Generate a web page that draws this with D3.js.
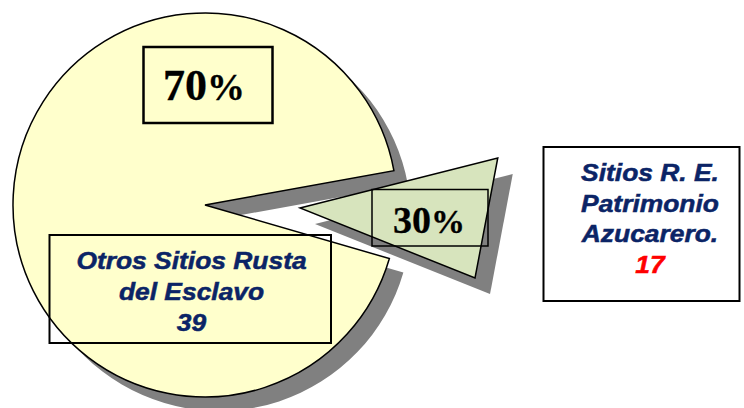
<!DOCTYPE html>
<html><head><meta charset="utf-8">
<script src="https://cdn.jsdelivr.net/npm/d3@7"></script>
<style>html,body{margin:0;padding:0;background:#fff;overflow:hidden}svg{display:block}</style>
</head><body><svg id="c" width="744" height="408"></svg>
<script>
// ---- data ----
const categories = ["Otros Sitios Rusta del Esclavo", "Sitios R. E. Patrimonio Azucarero."];
const values = [39, 17];
const nameLines = [["Otros Sitios Rusta", "del Esclavo"], ["Sitios R. E.", "Patrimonio", "Azucarero."]];
const fills = ["#FFFFCC", "#D7E4BD"];

const total = d3.sum(values);
const percents = values.map(v => Math.round(v / total * 100) + "%");

const svg = d3.select("#c");
const rad = d => d * Math.PI / 180;

// angle scales (degrees, d3 convention: 0 = 12 o'clock, clockwise) as drawn in the picture
const bigAngle = d3.scaleLinear().domain([0, values[0]]).range([106.2, 439.7]);
const smallAngle = d3.scaleLinear().domain([0, values[1]]).range([75.8, 111.8]);

const big = { cx: 205, cy: 205, r: 192 };
const small = { cx: 300, cy: 208, r0: 204, r1: 188.5 };

const bigArc = d3.arc().innerRadius(0).outerRadius(big.r)
  .startAngle(rad(bigAngle(0))).endAngle(rad(bigAngle(values[0])));

const smallPts = [[0, 0],
  d3.pointRadial(rad(smallAngle(0)), small.r0),
  d3.pointRadial(rad(smallAngle(values[1])), small.r1)];
const line = d3.line().curve(d3.curveLinearClosed);

const shadowCol = "#808080";
// shadows
svg.append("path").attr("d", bigArc()).attr("fill", shadowCol)
  .attr("transform", `translate(${big.cx + 14},${big.cy + 14})`);
svg.append("path").attr("d", line(smallPts)).attr("fill", shadowCol)
  .attr("transform", `translate(${small.cx + 15},${small.cy + 16})`);

// slices
svg.append("path").attr("d", bigArc()).attr("fill", fills[0])
  .attr("stroke", "#000").attr("stroke-width", 1.5).attr("stroke-linejoin", "miter")
  .attr("transform", `translate(${big.cx},${big.cy})`);
svg.append("path").attr("d", line(smallPts)).attr("fill", fills[1])
  .attr("stroke", "#000").attr("stroke-width", 1.5)
  .attr("transform", `translate(${small.cx},${small.cy})`);

// percent boxes
function box(x, y, w, h, sw) {
  svg.append("rect").attr("x", x).attr("y", y).attr("width", w).attr("height", h)
    .attr("fill", "none").attr("stroke", "#000").attr("stroke-width", sw);
}
function pct(txt, x, y, size, psize) {
  const t = svg.append("text").attr("x", x).attr("y", y).attr("text-anchor", "middle")
    .attr("font-family", "'Liberation Serif','Times New Roman',serif").attr("font-weight", "bold")
    .attr("fill", "#000").attr("stroke", "#000").attr("stroke-width", 0.3);
  t.append("tspan").attr("font-size", size).text(txt.replace("%", ""));
  t.append("tspan").attr("font-size", psize).text("%");
}
box(143.5, 47, 129, 76, 2.5);
pct(percents[0], 204, 100, 44, 38);
box(372, 189.5, 116, 56.5, 1.5);
pct(percents[1], 429, 233, 38, 34);

// name boxes
box(49.5, 235, 281.5, 108, 2);
svg.append("rect").attr("x", 543.5).attr("y", 147).attr("width", 196).attr("height", 154)
  .attr("fill", "#fff").attr("stroke", "#000").attr("stroke-width", 2);

function nameText(lines, val, cx, y0, dy, valColor) {
  const all = lines.concat([String(val)]);
  all.forEach((s, i) => {
    const col = i === all.length - 1 && valColor ? valColor : "#0B2466";
    svg.append("text")
      .attr("transform", `translate(${cx},${y0 + i * dy}) scale(1.1,1)`)
      .attr("text-anchor", "middle")
      .attr("font-family", "'Liberation Sans',Arial,sans-serif")
      .attr("font-weight", "bold").attr("font-style", "italic").attr("font-size", 24)
      .attr("fill", col).attr("stroke", col).attr("stroke-width", 0.5)
      .text(s);
  });
}
nameText(nameLines[0], values[0], 191.5, 268.5, 31, null);
nameText(nameLines[1], values[1], 650, 181, 30.7, "#FF0000");
</script></body></html>
